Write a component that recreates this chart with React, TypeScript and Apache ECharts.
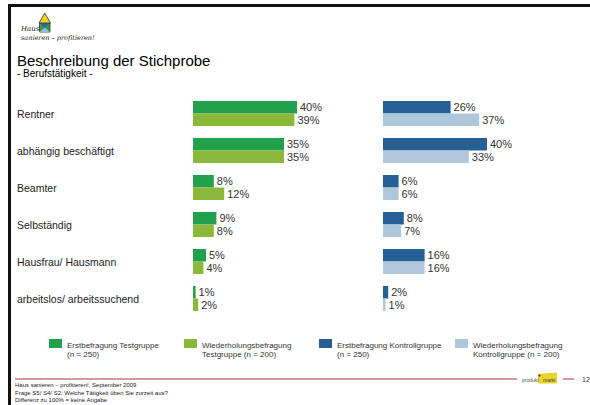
import React, { useEffect, useRef } from "react";
import * as echarts from "echarts";

const categories = [
  "Rentner",
  "abhängig beschäftigt",
  "Beamter",
  "Selbständig",
  "Hausfrau/ Hausmann",
  "arbeitslos/ arbeitssuchend",
];
const testErst = [40, 35, 8, 9, 5, 1];
const testWdh = [39, 35, 12, 8, 4, 2];
const kontrErst = [26, 40, 6, 8, 16, 2];
const kontrWdh = [37, 33, 6, 7, 16, 1];

const seriesNames = [
  "Erstbefragung Testgruppe\n(n = 250)",
  "Wiederholungsbefragung\nTestgruppe (n = 200)",
  "Erstbefragung Kontrollgruppe\n(n = 250)",
  "Wiederholungsbefragung\nKontrollgruppe (n = 200)",
];
const colors = ["#22a04b", "#8ab83a", "#255f94", "#afc7db"];

const title = "Beschreibung der Stichprobe";
const subtitle = "- Berufstätigkeit -";
const footerLines = [
  "Haus sanieren – profitieren!, September 2009",
  "Frage S5/ S4/ S2: Welche Tätigkeit üben Sie zurzeit aus?",
  "Differenz zu 100% = keine Angabe",
];
const pageNumber = "12";

const FONT = "'Liberation Sans', Arial, sans-serif";

export default function App() {
  const ref = useRef<HTMLDivElement>(null);
  useEffect(() => {
    if (!ref.current) return;
    const chart = echarts.init(ref.current, undefined, { renderer: "svg" });

    const legendX = [49, 184, 319, 455];
    const legendGraphics: any[] = [];
    seriesNames.forEach((n, i) => {
      legendGraphics.push({
        type: "rect",
        shape: { x: legendX[i], y: 339, width: 13, height: 9 },
        style: { fill: colors[i] },
      });
      legendGraphics.push({
        type: "text",
        x: legendX[i] + 18,
        y: 340.5,
        style: {
          text: n,
          font: `8px ${FONT}`,
          fill: "#333",
          lineHeight: 9.5,
          verticalAlign: "top",
          align: "left",
        },
      });
    });

    const barLabel = {
      show: true,
      position: "right",
      distance: 3,
      formatter: "{c}%",
      fontSize: 11,
      fontFamily: FONT,
      color: "#333",
    };

    chart.setOption({
      animation: false,
      backgroundColor: "#ffffff",
      grid: [
        { left: 193, top: 95, width: 130, height: 222 },
        { left: 383, top: 95, width: 130, height: 222 },
      ],
      xAxis: [
        { type: "value", gridIndex: 0, min: 0, max: 50, show: false },
        { type: "value", gridIndex: 1, min: 0, max: 50, show: false },
      ],
      yAxis: [
        {
          type: "category",
          gridIndex: 0,
          data: categories,
          inverse: true,
          axisLine: { show: false },
          axisTick: { show: false },
          splitLine: { show: false },
          axisLabel: {
            align: "left",
            margin: 176,
            fontSize: 10.5,
            fontFamily: FONT,
            color: "#222",
          },
        },
        {
          type: "category",
          gridIndex: 1,
          data: categories,
          inverse: true,
          show: false,
        },
      ],
      series: [
        {
          type: "bar",
          name: seriesNames[0],
          xAxisIndex: 0,
          yAxisIndex: 0,
          data: testErst,
          barWidth: 12.5,
          barGap: "0%",
          itemStyle: { color: colors[0] },
          label: barLabel,
        },
        {
          type: "bar",
          name: seriesNames[1],
          xAxisIndex: 0,
          yAxisIndex: 0,
          data: testWdh,
          barWidth: 12.5,
          barGap: "0%",
          itemStyle: { color: colors[1] },
          label: barLabel,
        },
        {
          type: "bar",
          name: seriesNames[2],
          xAxisIndex: 1,
          yAxisIndex: 1,
          data: kontrErst,
          barWidth: 12.5,
          barGap: "0%",
          itemStyle: { color: colors[2] },
          label: barLabel,
        },
        {
          type: "bar",
          name: seriesNames[3],
          xAxisIndex: 1,
          yAxisIndex: 1,
          data: kontrWdh,
          barWidth: 12.5,
          barGap: "0%",
          itemStyle: { color: colors[3] },
          label: barLabel,
        },
      ],
      graphic: [
        // frame
        { type: "rect", shape: { x: 8, y: 4, width: 582, height: 3 }, style: { fill: "#111" } },
        { type: "rect", shape: { x: 8, y: 4, width: 3, height: 401 }, style: { fill: "#111" } },
        // logo house
        {
          type: "rect",
          shape: { x: 39.5, y: 23, width: 10.5, height: 9 },
          style: { fill: "#3a9a4a", stroke: "#333", lineWidth: 0.8 },
        },
        {
          type: "polygon",
          shape: { points: [[39.5, 23], [50, 23], [44.75, 28]] },
          style: { fill: "#2a6aa8" },
        },
        {
          type: "polygon",
          shape: { points: [[39.5, 32], [50, 32], [44.75, 27.5]] },
          style: { fill: "#8fc0e0" },
        },
        {
          type: "polygon",
          shape: { points: [[44.75, 13], [39, 23], [50.5, 23]] },
          style: { fill: "#f0d020", stroke: "#333", lineWidth: 0.8 },
        },
        {
          type: "text",
          x: 21,
          y: 29,
          style: {
            text: "Haus",
            font: "italic 7px 'DejaVu Serif', serif",
            fill: "#222",
            verticalAlign: "middle",
          },
        },
        {
          type: "text",
          x: 21,
          y: 37.5,
          style: {
            text: "sanieren – profitieren!",
            font: "italic 6.5px 'DejaVu Serif', serif",
            fill: "#222",
            verticalAlign: "middle",
          },
        },
        // titles
        {
          type: "text",
          x: 17,
          y: 60,
          style: {
            text: title,
            font: `15px ${FONT}`,
            fill: "#000",
            verticalAlign: "middle",
          },
        },
        {
          type: "text",
          x: 17,
          y: 73,
          style: {
            text: subtitle,
            font: `10px ${FONT}`,
            fill: "#000",
            verticalAlign: "middle",
          },
        },
        ...legendGraphics,
        // footer
        {
          type: "line",
          shape: { x1: 15, y1: 379, x2: 517, y2: 379 },
          style: { stroke: "#d69a9e", lineWidth: 2 },
        },
        {
          type: "line",
          shape: { x1: 563, y1: 379, x2: 574, y2: 379 },
          style: { stroke: "#d69a9e", lineWidth: 2 },
        },
        {
          type: "polygon",
          shape: { points: [[538, 374], [557, 372.5], [557, 383.5], [538, 383.5]] },
          style: { fill: "#e8d42a" },
        },
        {
          type: "circle",
          shape: { cx: 539.5, cy: 375.5, r: 1.2 },
          style: { fill: "#d02020" },
        },
        {
          type: "text",
          x: 522,
          y: 379.5,
          style: {
            text: "produkt",
            font: `5px ${FONT}`,
            fill: "#555",
            verticalAlign: "middle",
          },
        },
        {
          type: "text",
          x: 543,
          y: 379.5,
          style: {
            text: "markt",
            font: `5px ${FONT}`,
            fill: "#444",
            verticalAlign: "middle",
          },
        },
        {
          type: "text",
          x: 582,
          y: 379,
          style: {
            text: pageNumber,
            font: `7px ${FONT}`,
            fill: "#333",
            verticalAlign: "middle",
          },
        },
        {
          type: "text",
          x: 15,
          y: 384.5,
          style: { text: footerLines[0], font: `6px ${FONT}`, fill: "#222", verticalAlign: "middle" },
        },
        {
          type: "text",
          x: 15,
          y: 393,
          style: { text: footerLines[1], font: `6px ${FONT}`, fill: "#222", verticalAlign: "middle" },
        },
        {
          type: "text",
          x: 15,
          y: 399.5,
          style: { text: footerLines[2], font: `6px ${FONT}`, fill: "#222", verticalAlign: "middle" },
        },
      ],
    });
    return () => chart.dispose();
  }, []);
  return (
    <div
      ref={ref}
      style={{ position: "fixed", left: 0, top: 0, width: 590, height: 405, background: "#fff" }}
    />
  );
}
